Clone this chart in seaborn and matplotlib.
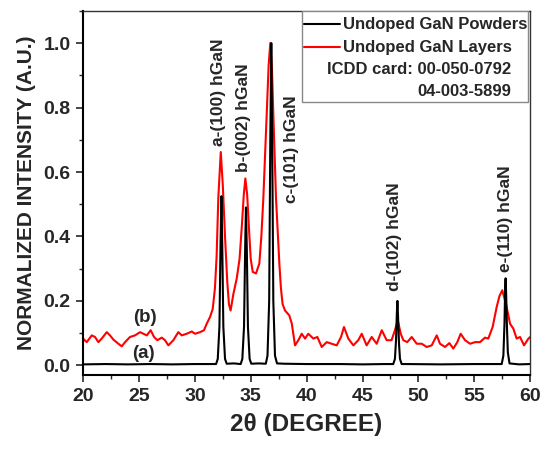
import numpy as np
import pandas as pd
import seaborn as sns
import matplotlib
matplotlib.use("Agg")
import matplotlib.pyplot as plt
from matplotlib.ticker import MultipleLocator
from matplotlib.patches import Rectangle
from matplotlib.lines import Line2D

# ---------------- datos ----------------
# (a) polvo de GaN sin dopar (negro)
polvo_2theta = [20.0, 22.0, 24.0, 26.0, 28.0, 30.0, 31.5,
                31.9, 32.05, 32.2, 32.3, 32.38, 32.45, 32.55, 32.7, 32.85,
                33.5, 34.1, 34.25, 34.4, 34.5, 34.57, 34.65, 34.75, 34.9, 35.05,
                35.7, 36.35, 36.5, 36.65, 36.75, 36.84, 36.92, 37.02, 37.17, 37.35,
                38.0, 40.0, 43.0, 45.0, 47.0, 47.75, 47.9, 48.0, 48.07, 48.12,
                48.18, 48.26, 48.35, 48.5, 49.0, 52.0, 55.0, 57.0, 57.45, 57.6,
                57.7, 57.76, 57.8, 57.85, 57.92, 58.0, 58.15, 59.0, 60.0]
polvo_int = [0.003, 0.004, 0.003, 0.004, 0.003, 0.004, 0.004,
             0.004, 0.02, 0.12, 0.38, 0.525, 0.38, 0.12, 0.02, 0.005,
             0.006, 0.004, 0.02, 0.12, 0.36, 0.49, 0.36, 0.12, 0.02, 0.005,
             0.006, 0.005, 0.03, 0.2, 0.7, 1.0, 0.7, 0.2, 0.03, 0.006,
             0.005, 0.004, 0.004, 0.003, 0.004, 0.004, 0.02, 0.08, 0.16, 0.2,
             0.15, 0.07, 0.02, 0.004, 0.004, 0.003, 0.004, 0.004, 0.004, 0.03,
             0.13, 0.24, 0.27, 0.22, 0.12, 0.04, 0.006, 0.003, 0.004]

# (b) capas de GaN sin dopar (rojo)
capa_2theta = [20.0, 20.33, 20.78, 21.07, 21.37, 21.67, 22.12, 22.41, 22.71, 23.16,
               23.46, 23.76, 24.2, 24.65, 25.1, 25.4, 25.7, 26.05, 26.35, 26.65,
               27.04, 27.33, 27.63, 28.08, 28.52, 28.83, 29.27, 29.72, 30.02, 30.47,
               30.82, 31.06, 31.36, 31.6, 31.8, 31.95, 32.1, 32.32, 32.5, 32.7,
               32.9, 33.05, 33.2, 33.44, 33.75, 34.0, 34.2, 34.38, 34.52, 34.68,
               34.85, 35.0, 35.18, 35.47, 35.77, 35.95, 36.13, 36.43, 36.6, 36.75,
               36.9, 37.02, 37.26, 37.56, 37.7, 37.85, 38.07, 38.45, 38.67, 38.96,
               39.26, 39.56, 39.86, 40.15, 40.6, 40.96, 41.35, 41.8, 42.24, 42.69,
               43.08, 43.34, 43.73, 44.18, 44.62, 44.93, 45.37, 45.82, 46.27, 46.72,
               47.16, 47.6, 47.9, 48.15, 48.42, 48.65, 49.0, 49.4, 49.85, 50.3,
               50.74, 51.19, 51.64, 51.93, 52.38, 52.77, 53.12, 53.48, 53.78, 54.17,
               54.62, 55.06, 55.51, 55.96, 56.25, 56.64, 57.0, 57.25, 57.5, 57.84,
               58.2, 58.49, 58.79, 59.09, 59.45, 59.84, 60.0]
capa_int = [0.083, 0.072, 0.093, 0.088, 0.072, 0.083, 0.103, 0.093, 0.080, 0.067,
            0.059, 0.072, 0.088, 0.093, 0.103, 0.098, 0.093, 0.109, 0.088, 0.078,
            0.086, 0.078, 0.062, 0.078, 0.103, 0.093, 0.098, 0.105, 0.098, 0.103,
            0.109, 0.129, 0.150, 0.175, 0.24, 0.34, 0.52, 0.662, 0.56, 0.40,
            0.26, 0.19, 0.17, 0.22, 0.27, 0.33, 0.43, 0.53, 0.58, 0.53,
            0.42, 0.33, 0.29, 0.285, 0.316, 0.40, 0.52, 0.78, 0.93, 1.0,
            0.92, 0.78, 0.52, 0.316, 0.24, 0.19, 0.17, 0.155, 0.13, 0.062,
            0.078, 0.098, 0.083, 0.098, 0.083, 0.088, 0.057, 0.072, 0.067, 0.062,
            0.088, 0.119, 0.083, 0.062, 0.078, 0.098, 0.062, 0.088, 0.067, 0.109,
            0.078, 0.078, 0.109, 0.14, 0.098, 0.078, 0.072, 0.088, 0.067, 0.067,
            0.057, 0.062, 0.093, 0.067, 0.057, 0.069, 0.052, 0.072, 0.098, 0.078,
            0.067, 0.072, 0.072, 0.086, 0.083, 0.119, 0.181, 0.215, 0.233, 0.19,
            0.129, 0.114, 0.083, 0.088, 0.062, 0.083, 0.088]

# etiquetas de los picos: texto, posición x, y (base del texto)
picos_txt = ["a-(100) hGaN", "b-(002) hGaN", "c-(101) hGaN", "d-(102) hGaN", "e-(110) hGaN"]
picos_x = [32.1, 34.34, 38.67, 47.9, 57.75]
picos_y = [0.68, 0.60, 0.505, 0.23, 0.29]

leyenda = ["Undoped GaN Powders", "Undoped GaN Layers"]
icdd = ["ICDD card: 00-050-0792", "04-003-5899"]

# ---------------- figura ----------------
sns.set_style("ticks")
plt.rcParams['font.family'] = ['Liberation Sans', 'DejaVu Sans']
plt.rcParams['font.weight'] = 'bold'

fig, ax = plt.subplots(figsize=(5.5, 4.54), dpi=100)
fig.subplots_adjust(left=0.151, right=0.964, top=0.976, bottom=0.174)

df_polvo = pd.DataFrame({"x": polvo_2theta, "y": polvo_int})
df_capa = pd.DataFrame({"x": capa_2theta, "y": capa_int})

sns.lineplot(data=df_capa, x="x", y="y", color="#ff0000", lw=1.5, sort=False,
             estimator=None, ax=ax)
sns.lineplot(data=df_polvo, x="x", y="y", color="black", lw=1.5, sort=False,
             estimator=None, ax=ax)

ax.set_xlim(20, 60)
ax.set_ylim(-0.03, 1.1)
ax.xaxis.set_major_locator(MultipleLocator(5))
ax.xaxis.set_minor_locator(MultipleLocator(2.5))
ax.yaxis.set_major_locator(MultipleLocator(0.2))
ax.yaxis.set_minor_locator(MultipleLocator(0.1))
ax.yaxis.set_major_formatter(matplotlib.ticker.FormatStrFormatter('%.1f'))

ax.tick_params(which='major', length=5, width=1.2, labelsize=14, pad=4)
ax.tick_params(which='minor', length=3, width=1.0)
for lab in ax.get_xticklabels() + ax.get_yticklabels():
    lab.set_fontweight('bold')

for s in ['left', 'bottom']:
    ax.spines[s].set_linewidth(1.5)
    ax.spines[s].set_color('black')
for s in ['top', 'right']:
    ax.spines[s].set_linewidth(1.0)
    ax.spines[s].set_color('#333333')

ax.set_xlabel("2θ (DEGREE)", fontsize=17.5, fontweight='bold', labelpad=6)
ax.set_ylabel("NORMALIZED INTENSITY (A.U.)", fontsize=15, fontweight='bold', labelpad=5)

for t, x, y in zip(picos_txt, picos_x, picos_y):
    ax.text(x, y, t, rotation=90, ha='center', va='bottom', fontsize=12.5,
            fontweight='bold')

ax.text(25.5, 0.15, "(b)", ha='center', va='center', fontsize=13.5, fontweight='bold')
ax.text(25.4, 0.036, "(a)", ha='center', va='center', fontsize=13.5, fontweight='bold')

# cuadro de leyenda
ax.add_patch(Rectangle((0.49, 0.75), 0.5055, 0.25, transform=ax.transAxes,
                       fill=True, facecolor='white', edgecolor='#888888', lw=1.0, zorder=5))
filas_y = [0.964, 0.900]
for lab, col, fy in zip(leyenda, ['black', '#ff0000'], filas_y):
    ax.add_line(Line2D([0.495, 0.575], [fy, fy], transform=ax.transAxes,
                       color=col, lw=1.5, zorder=6))
    ax.text(0.582, fy, lab, transform=ax.transAxes, ha='left', va='center',
            fontsize=12, fontweight='bold', zorder=6)
for lab, fy in zip(icdd, [0.838, 0.778]):
    ax.text(0.9575, fy, lab, transform=ax.transAxes, ha='right', va='center',
            fontsize=12, fontweight='bold', zorder=6)

fig.savefig("out.png", dpi=100)
